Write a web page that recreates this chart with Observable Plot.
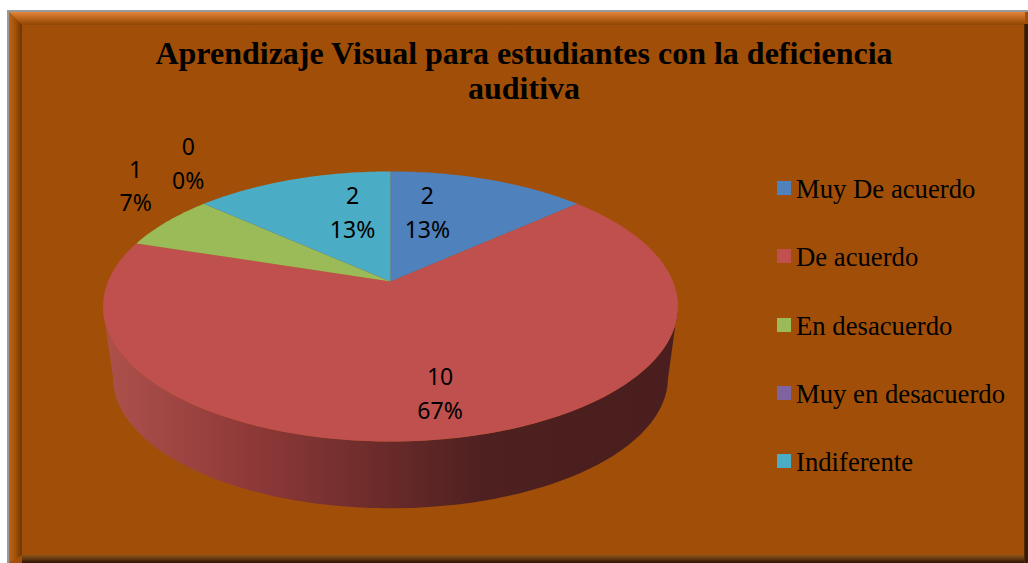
<!DOCTYPE html>
<html lang="es">
<head>
<meta charset="utf-8">
<script src="https://cdn.jsdelivr.net/npm/d3@7"></script>
<script src="https://cdn.jsdelivr.net/npm/@observablehq/plot@0.6"></script>
<style>
html,body{margin:0;padding:0;background:#fff;overflow:hidden}
#stage{position:relative;width:1028px;height:563px;overflow:hidden}
#stage>div{position:absolute}
#border{left:7px;top:10px;width:1021px;height:553px;background:#9a9a9a}
#face{left:9px;top:12px;width:1019px;height:551px;background:#A14F08}
#bevT{left:9px;top:12px;width:1016px;height:13px;background:linear-gradient(to bottom,#E0853C,#C76E26 35%,#A8560F 70%,#8F4606);clip-path:polygon(0 0,100% 0,100% 100%,13px 100%)}
#bevL{left:9px;top:12px;width:13px;height:551px;background:linear-gradient(to right,#B9661F,#A65309 45%,#6A3504);clip-path:polygon(0 0,100% 13px,100% calc(100% - 8px),0 100%)}
#bevR{left:1024px;top:24px;width:4px;height:539px;background:linear-gradient(to right,#5a2f0b,#2e1606 50%,#3e2009)}
#bevB{left:22px;top:555px;width:1006px;height:8px;background:linear-gradient(to bottom,#8a5018,#6a3d14 40%,#3a1e08 85%,#2e1606)}
#title{left:0;top:36px;width:1048px;text-align:center;font:bold 32px/35px "Liberation Serif",serif;color:#000}
#legend{left:777px;top:0}
.key{position:absolute;left:0;height:30px;white-space:nowrap;font:26.7px/30px "Liberation Serif",serif;color:#000}
.key i{position:absolute;left:0;top:7px;width:14px;height:14px}
.key span{position:absolute;left:19px;top:0}
#stage svg{position:absolute;left:0;top:0}
</style>
</head>
<body>
<div id="stage">
  <div id="border"></div><div id="face"></div>
  <div id="bevT"></div><div id="bevL"></div><div id="bevB"></div><div id="bevR"></div>
  <div id="title"></div>
  <div id="legend"></div>
</div>
<script>
const titleLines = ["Aprendizaje Visual para estudiantes con la deficiencia", "auditiva"];
const categories = ["Muy De acuerdo", "De acuerdo", "En desacuerdo", "Muy en desacuerdo", "Indiferente"];
const counts = [2, 10, 1, 0, 2];
const colors = ["#4F81BD", "#C0504D", "#9BBB59", "#8064A2", "#4BACC6"];

// label placement relative to slice middle (layout only)
const labelShift = [[-35, 3.5], [2.5, 7.7], [-94, -54.5], [-67, -64], [34, 3.5]];
const wallStops = [[0, "#AE514C"], [0.25, "#8F3A39"], [0.5, "#682A29"], [0.66, "#4E2020"], [1, "#4A1E1E"]];

const K = 0.185;          // perspective of the tilted disc
const DROP = 0.555;       // how far below the top the bottom disc sits (data units)
const SHRINK = 0.965;     // bottom disc scale
const total = d3.sum(counts);

const project = (deg, r = 1) => {
  const a = deg * Math.PI / 180, u = r * Math.sin(a), v = r * Math.cos(a), w = 1 + K * v;
  return {x: u / w, y: v / w};
};
const lower = deg => {
  const p = project(deg);
  return {x: p.x * SHRINK, y: p.y * SHRINK - DROP};
};

let acc = 0;
const slices = categories.map((name, i) => {
  const start = acc / total * 360;
  acc += counts[i];
  return {name, count: counts[i], start, end: acc / total * 360, i};
});

const sliceRows = slices.flatMap(s => {
  if (!s.count) return [];
  const pts = [{name: s.name, x: 0, y: 0}];
  for (let a = s.start; a < s.end; a += 1) pts.push({name: s.name, ...project(a)});
  pts.push({name: s.name, ...project(s.end)});
  return pts;
});

const silhouette = 90 + Math.asin(K) * 180 / Math.PI; // angle where the disc is widest
const topRim = [], bottomRim = [];
for (let a = silhouette; a <= 360 - silhouette; a += 1) topRim.push(project(a));
for (let a = 360 - silhouette; a >= silhouette; a -= 1) bottomRim.push(lower(a));
const wall = topRim.concat(bottomRim);

const defs = () => {
  const d = d3.create("svg:defs");
  const g = d.append("linearGradient").attr("id", "wall");
  for (const [o, c] of wallStops) g.append("stop").attr("offset", o).attr("stop-color", c);
  return d.node();
};

const labelMarks = slices.map(s => {
  const p = project((s.start + s.end) / 2, 0.7);
  return Plot.text([{...p, t: `${s.count}\n${Math.round(s.count / total * 100)}%`}], {
    x: "x", y: "y", text: "t",
    dx: labelShift[s.i][0], dy: labelShift[s.i][1],
    lineHeight: 1.45, lineAnchor: "middle", textAnchor: "middle",
    fontSize: 23, fontFamily: "Noto Sans", fill: "#000"
  });
});

const chart = Plot.plot({
  width: 1028, height: 563,
  margin: 0,
  style: {background: "transparent", overflow: "visible"},
  x: {domain: [-1, 1], range: [107.5, 672.5], axis: null},
  y: {domain: [-1, 1], range: [411.4, 150.6], axis: null},
  color: {domain: categories, range: colors},
  marks: [
    defs,
    Plot.line(wall, {x: "x", y: "y", fill: "url(#wall)", stroke: "none"}),
    Plot.line(sliceRows, {x: "x", y: "y", z: "name", fill: "name", stroke: "none"}),
    ...labelMarks
  ]
});
document.getElementById("stage").appendChild(chart);

document.getElementById("title").innerHTML = titleLines.join("<br>");
const legend = document.getElementById("legend");
categories.forEach((c, i) => {
  const k = document.createElement("div");
  k.className = "key";
  k.style.top = (174 + i * 68.3) + "px";
  k.innerHTML = `<i style="background:${colors[i]}"></i><span>${c}</span>`;
  legend.appendChild(k);
});
</script>
</body>
</html>
